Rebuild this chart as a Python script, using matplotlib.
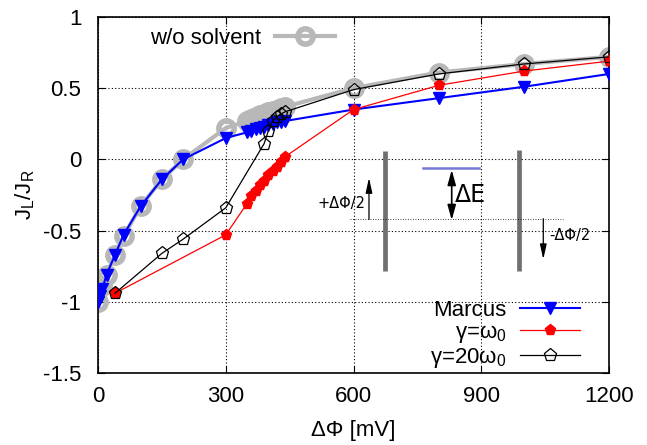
import matplotlib
matplotlib.use("Agg")
import matplotlib.pyplot as plt

plt.rcParams['font.family'] = ['Liberation Sans', 'DejaVu Sans']
plt.rcParams['mathtext.fontset'] = 'custom'
plt.rcParams['mathtext.rm'] = 'Liberation Sans'
plt.rcParams['mathtext.it'] = 'Liberation Sans:italic'
plt.rcParams['axes.unicode_minus'] = False

# data
x_marcus = [0, 5, 10, 20, 40, 60, 100, 150, 200, 300, 350, 360, 370, 380, 390, 400, 410, 420, 430, 440, 600, 800, 1000, 1200]
y_marcus = [-1.0, -0.96, -0.91, -0.81, -0.67, -0.53, -0.33, -0.14, 0.0, 0.15, 0.19, 0.2, 0.21, 0.22, 0.23, 0.24, 0.25, 0.26, 0.265, 0.27, 0.35, 0.43, 0.51, 0.6]

x_g1 = [40, 300, 350, 360, 370, 380, 390, 400, 410, 420, 430, 440, 600, 800, 1000, 1200]
y_g1 = [-0.94, -0.53, -0.31, -0.26, -0.22, -0.18, -0.15, -0.11, -0.08, -0.05, -0.02, 0.02, 0.35, 0.52, 0.62, 0.69]

x_g20 = [40, 150, 200, 300, 390, 400, 410, 420, 430, 440, 600, 800, 1000, 1200]
y_g20 = [-0.94, -0.66, -0.56, -0.34, 0.11, 0.2, 0.27, 0.3, 0.32, 0.335, 0.49, 0.6, 0.67, 0.72]

x_nosolv = [0, 10, 20, 40, 60, 100, 150, 200, 300, 350, 360, 370, 380, 390, 400, 410, 420, 430, 440, 600, 800, 1000, 1200]
y_nosolv = [-1.0, -0.89, -0.81, -0.67, -0.54, -0.33, -0.14, 0.0, 0.22, 0.27, 0.285, 0.3, 0.31, 0.32, 0.33, 0.34, 0.35, 0.36, 0.37, 0.5, 0.61, 0.67, 0.72]

xticks = [0, 300, 600, 900, 1200]
yticks = [-1.5, -1, -0.5, 0, 0.5, 1]
ytick_labels = ['-1.5', '-1', '-0.5', '0', '0.5', '1']

fig = plt.figure(figsize=(6.47, 4.45), dpi=100)
ax = fig.add_axes([98/647, 72/445, 511/647, 356/445])

l_ns, = ax.plot(x_nosolv, y_nosolv, color='#b8b8b8', lw=3, marker='o', ms=11,
                mfc='none', mec='#b8b8b8', mew=4, zorder=2, label='w/o solvent')
l_m, = ax.plot(x_marcus, y_marcus, color='blue', lw=1.5, marker='v', ms=9,
               mfc='blue', mec='blue', zorder=3, label='Marcus')
l_1, = ax.plot(x_g1, y_g1, color='red', lw=0.9, marker='p', ms=8,
               mfc='red', mec='red', zorder=4, label=r'γ=ω$_\mathrm{0}$')
l_20, = ax.plot(x_g20, y_g20, color='black', lw=0.9, marker='p', ms=9.5,
                mfc='none', mec='black', mew=0.9, zorder=5, label=r'γ=20ω$_\mathrm{0}$')

ax.set_xlim(0, 1200)
ax.set_ylim(-1.5, 1)
ax.set_xticks(xticks)
ax.set_yticks(yticks)
ax.set_yticklabels(ytick_labels)
ax.tick_params(direction='in', length=5, labelsize=16, top=True, right=True)
ax.tick_params(axis='x', pad=9)
ax.tick_params(axis='y', pad=12)
ax.grid(True, color='black', linestyle=(0, (1, 2)), lw=0.8)
for s in ax.spines.values():
    s.set_linewidth(1.2)

ax.set_xlabel('ΔΦ [mV]', fontsize=16, va='center')
ax.xaxis.set_label_coords(0.5, -0.162)
ax.set_ylabel(r'J$_\mathrm{L}$/J$_\mathrm{R}$', fontsize=16, va='center')
ax.yaxis.set_label_coords(-0.143, 0.5)

leg1 = ax.legend(handles=[l_ns], loc='center left', bbox_to_anchor=(0.102, 0.939),
                 frameon=False, markerfirst=False, fontsize=16, borderpad=0,
                 borderaxespad=0, handlelength=2.7, handletextpad=0.6, numpoints=1)
ax.add_artist(leg1)
ax.legend(handles=[l_m, l_1, l_20], loc='center right', bbox_to_anchor=(0.943, 0.107),
          frameon=False, markerfirst=False, fontsize=16, borderpad=0, borderaxespad=0,
          handlelength=2.7, handletextpad=0.6, labelspacing=0.05, numpoints=1)

# inset energy diagram (axes fraction coordinates)
tr = ax.transAxes
ax.plot([0.5626, 0.5626], [0.2866, 0.6232], color='#707070', lw=3.4, transform=tr, zorder=6, solid_capstyle='butt')
ax.plot([0.8239, 0.8239], [0.2866, 0.6255], color='#707070', lw=3.4, transform=tr, zorder=6, solid_capstyle='butt')
ax.plot([0.6366, 0.7462], [0.5762, 0.5762], color='#7878d8', lw=1.8, transform=tr, zorder=6)
ax.plot([0.4932, 0.9106], [0.4333, 0.4333], color='black', lw=0.6, linestyle=(0, (1, 2)), transform=tr, zorder=6)
ax.annotate('', xy=(0.6922, 0.5706), xytext=(0.6922, 0.4294), xycoords='axes fraction',
            arrowprops=dict(arrowstyle='<|-|>,head_length=0.9,head_width=0.25', color='black', lw=1.2,
                            shrinkA=0, shrinkB=0), zorder=7)
ax.text(0.6986, 0.5014, 'ΔE', transform=tr, fontsize=17, family='DejaVu Sans', va='center', ha='left', zorder=7)
ax.annotate('', xy=(0.5303, 0.5482), xytext=(0.5303, 0.4314), xycoords='axes fraction',
            arrowprops=dict(arrowstyle='-|>,head_length=0.9,head_width=0.2', color='black', lw=0.9,
                            shrinkA=0, shrinkB=0), zorder=7)
ax.text(0.5239, 0.4762, '+ΔΦ/2', transform=tr, fontsize=10.5, family='DejaVu Sans', va='center', ha='right', zorder=7)
ax.annotate('', xy=(0.8714, 0.3193), xytext=(0.8714, 0.4333), xycoords='axes fraction',
            arrowprops=dict(arrowstyle='-|>,head_length=0.9,head_width=0.2', color='black', lw=0.9,
                            shrinkA=0, shrinkB=0), zorder=7)
ax.text(0.8826, 0.3866, '-ΔΦ/2', transform=tr, fontsize=10.5, family='DejaVu Sans', va='center', ha='left', zorder=7)

fig.savefig('out.png', dpi=100)
